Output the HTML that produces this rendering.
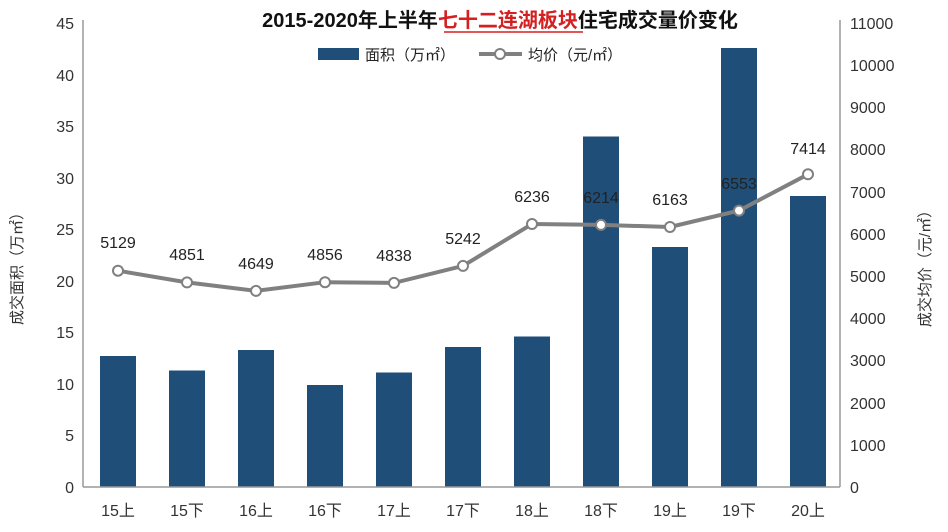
<!DOCTYPE html>
<html><head><meta charset="utf-8"><style>
body{margin:0;background:#fff;}
svg{display:block;font-family:"Liberation Sans","Noto Sans CJK SC",sans-serif;}
</style></head><body>
<svg width="948" height="532" viewBox="0 0 948 532">
<rect width="948" height="532" fill="#fff"/>
<text x="500" y="27" text-anchor="middle" font-size="20" font-weight="bold" fill="#111">2015-2020年上半年<tspan fill="#d42020">七十二连湖板块</tspan>住宅成交量价变化</text>
<line x1="444" y1="32" x2="583" y2="32" stroke="#d42020" stroke-width="1.5"/>
<rect x="318" y="48" width="41" height="12" fill="#1f4e79"/>
<text x="365" y="60" font-size="15" fill="#222">面积（万㎡）</text>
<line x1="479" y1="54" x2="522" y2="54" stroke="#808080" stroke-width="4"/>
<circle cx="500" cy="54" r="5" fill="#fff" stroke="#808080" stroke-width="2"/>
<text x="528" y="60" font-size="15" fill="#222">均价（元/㎡）</text>
<g font-size="16" fill="#333" text-anchor="end">
<text x="74" y="493">0</text><text x="74" y="441">5</text><text x="74" y="390">10</text><text x="74" y="338">15</text><text x="74" y="287">20</text><text x="74" y="235">25</text><text x="74" y="184">30</text><text x="74" y="132">35</text><text x="74" y="81">40</text><text x="74" y="29">45</text>
</g>
<g font-size="16" fill="#333" text-anchor="start">
<text x="850" y="493">0</text><text x="850" y="451">1000</text><text x="850" y="409">2000</text><text x="850" y="366">3000</text><text x="850" y="324">4000</text><text x="850" y="282">5000</text><text x="850" y="240">6000</text><text x="850" y="198">7000</text><text x="850" y="155">8000</text><text x="850" y="113">9000</text><text x="850" y="71">10000</text><text x="850" y="29">11000</text>
</g>
<text transform="translate(22,265) rotate(-90)" text-anchor="middle" font-size="15" fill="#333">成交面积（万㎡）</text>
<text transform="translate(930,265) rotate(-90)" text-anchor="middle" font-size="15" fill="#333">成交均价（元/㎡）</text>
<g fill="#1f4e79">
<rect x="100" y="356" width="36" height="131"/>
<rect x="169" y="370.5" width="36" height="116.5"/>
<rect x="238" y="350" width="36" height="137"/>
<rect x="307" y="385" width="36" height="102"/>
<rect x="376" y="372.5" width="36" height="114.5"/>
<rect x="445" y="347" width="36" height="140"/>
<rect x="514" y="336.5" width="36" height="150.5"/>
<rect x="583" y="136.5" width="36" height="350.5"/>
<rect x="652" y="247" width="36" height="240"/>
<rect x="721" y="48" width="36" height="439"/>
<rect x="790" y="196" width="36" height="291"/>
</g>
<line x1="83" y1="487" x2="840" y2="487" stroke="#999" stroke-width="1.5"/>
<line x1="83" y1="20" x2="83" y2="487" stroke="#999" stroke-width="1.5"/>
<line x1="840" y1="20" x2="840" y2="487" stroke="#999" stroke-width="1.5"/>
<polyline fill="none" stroke="#808080" stroke-width="4" points="118,270.7 187,282.4 256,290.9 325,282.2 394,282.9 463,265.9 532,224 601,224.9 670,227 739,210.6 808,174.3"/>
<g fill="#fff" stroke="#808080" stroke-width="2">
<circle cx="118" cy="270.7" r="5"/><circle cx="187" cy="282.4" r="5"/><circle cx="256" cy="290.9" r="5"/><circle cx="325" cy="282.2" r="5"/><circle cx="394" cy="282.9" r="5"/><circle cx="463" cy="265.9" r="5"/><circle cx="532" cy="224" r="5"/><circle cx="601" cy="224.9" r="5"/><circle cx="670" cy="227" r="5"/><circle cx="739" cy="210.6" r="5"/><circle cx="808" cy="174.3" r="5"/>
</g>
<g font-size="16" fill="#222" text-anchor="middle">
<text x="118" y="248">5129</text><text x="187" y="260">4851</text><text x="256" y="269">4649</text><text x="325" y="260">4856</text><text x="394" y="261">4838</text><text x="463" y="244">5242</text><text x="532" y="202">6236</text><text x="601" y="203">6214</text><text x="670" y="205">6163</text><text x="739" y="189">6553</text><text x="808" y="154">7414</text>
</g>
<g font-size="16" fill="#333" text-anchor="middle">
<text x="118" y="516">15上</text><text x="187" y="516">15下</text><text x="256" y="516">16上</text><text x="325" y="516">16下</text><text x="394" y="516">17上</text><text x="463" y="516">17下</text><text x="532" y="516">18上</text><text x="601" y="516">18下</text><text x="670" y="516">19上</text><text x="739" y="516">19下</text><text x="808" y="516">20上</text>
</g>
</svg>
</body></html>
